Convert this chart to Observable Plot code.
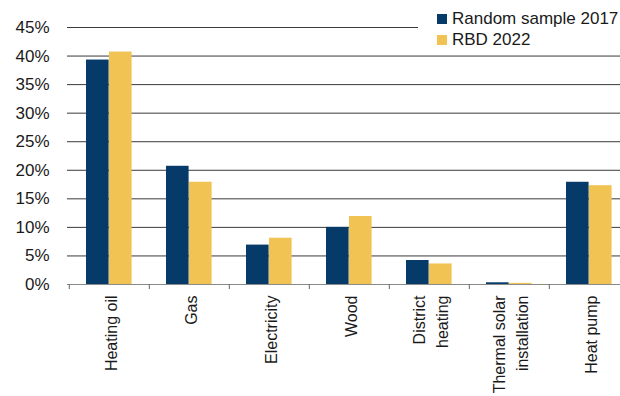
<!DOCTYPE html>
<html>
<head>
<meta charset="utf-8">
<script src="https://cdn.jsdelivr.net/npm/d3@7"></script>
<script src="https://cdn.jsdelivr.net/npm/@observablehq/plot@0.6"></script>
<style>
  html, body { margin: 0; padding: 0; background: #fff; }
  #wrap { position: relative; width: 620px; height: 396px; overflow: hidden; font-family: "Liberation Sans", Arial, sans-serif; }
  #legend { position: absolute; left: 418px; top: 0; width: 202px; height: 50px; background: #fff; font-size: 17px; color: #1a1a1a; }
  .row { position: absolute; left: 19px; display: flex; align-items: center; white-space: nowrap; }
  .sw { width: 10px; height: 10px; margin-right: 5px; }
</style>
</head>
<body>
<div id="wrap">
  <div id="chart"></div>
  <div id="legend"></div>
</div>
<script>
// Main heating source, share of buildings
const categories = ["Heating oil", "Gas", "Electricity", "Wood", "District\nheating", "Thermal solar\ninstallation", "Heat pump"];
const series = ["Random sample 2017", "RBD 2022"];
const sample2017 = [0.393, 0.207, 0.069, 0.100, 0.042, 0.003, 0.179];
const rbd2022 = [0.407, 0.179, 0.081, 0.119, 0.036, 0.002, 0.173];
const yTicks = [0, 0.05, 0.10, 0.15, 0.20, 0.25, 0.30, 0.35, 0.40, 0.45];
const colors = ["#053a69", "#f0c352"];

const rows = categories.map((c, i) => ({category: c, s2017: sample2017[i], s2022: rbd2022[i]}));

const chart = Plot.plot({
  width: 620,
  height: 396,
  marginLeft: 67,
  marginRight: 0,
  marginTop: 27,
  marginBottom: 112,
  style: {fontFamily: "'Liberation Sans', Arial, sans-serif", fontSize: "17px", color: "#1a1a1a", background: "#fff"},
  x: {type: "band", domain: categories, range: [67, 630], padding: 0},
  y: {domain: [0, 0.45]},
  marks: [
    Plot.ruleY(yTicks.filter(d => d > 0), {stroke: "#3a3a3a", strokeWidth: 1}),
    Plot.barY(rows, {x: "category", y: "s2017", fill: colors[0], insetLeft: 17, insetRight: 40.4}),
    Plot.barY(rows, {x: "category", y: "s2022", fill: colors[1], insetLeft: 40, insetRight: 17.4}),
    Plot.ruleY([0], {stroke: "#8a8a8a", strokeWidth: 1.2}),
    Plot.ruleX(categories, {x: d => d, y1: 0, y2: 0, dx: -80.43 / 2, insetBottom: -5, stroke: "#666"}),
    Plot.axisY(yTicks, {tickFormat: d3.format(".0%"), tickSize: 0, tickPadding: 18, fontSize: 17, fill: "#1a1a1a"}),
    Plot.axisX({tickRotate: -90, tickSize: 0, tickPadding: 11, fontSize: 16, lineHeight: 1.4, fill: "#1a1a1a", label: null})
  ]
});
document.getElementById("chart").appendChild(chart);

// Legend drawn over the top-right corner of the plot
const legend = document.getElementById("legend");
series.forEach((name, i) => {
  const row = document.createElement("div");
  row.className = "row";
  row.style.top = (9 + i * 21) + "px";
  row.innerHTML = `<span class="sw" style="background:${colors[i]}"></span><span>${name}</span>`;
  legend.appendChild(row);
});
</script>
</body>
</html>
